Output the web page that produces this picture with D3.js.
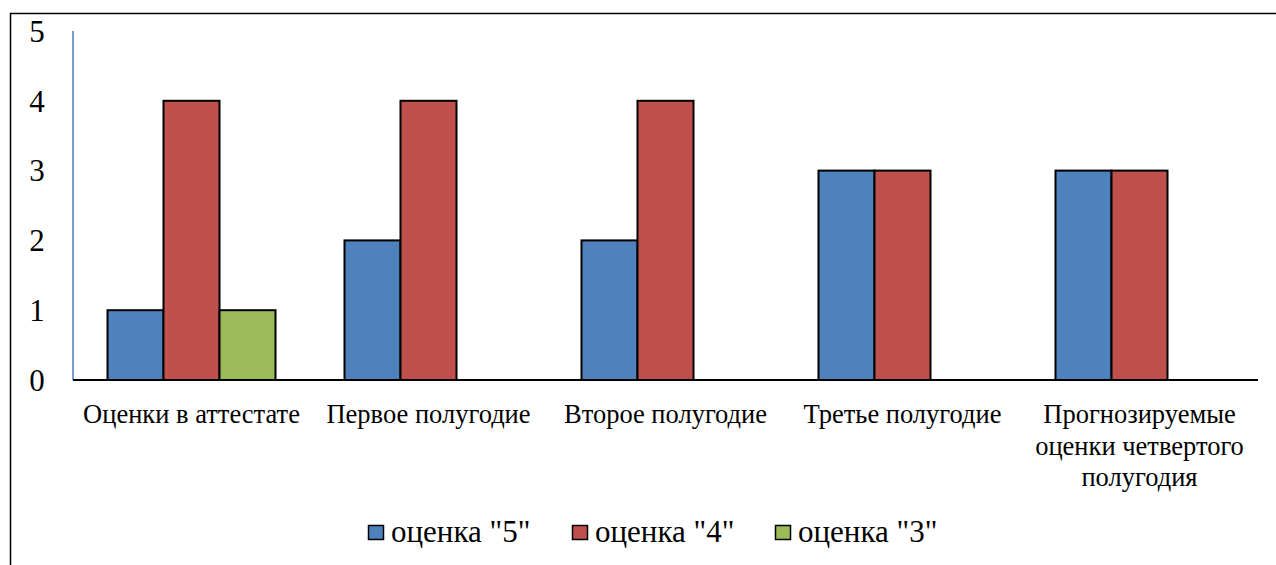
<!DOCTYPE html>
<html>
<head>
<meta charset="utf-8">
<script src="https://cdn.jsdelivr.net/npm/d3@7"></script>
<style>
  body { margin: 0; background: #fff; }
</style>
</head>
<body>
<div id="chart"></div>
<script>
const categories = [
  ['Оценки в аттестате'],
  ['Первое полугодие'],
  ['Второе полугодие'],
  ['Третье полугодие'],
  ['Прогнозируемые', 'оценки четвертого', 'полугодия']
];
const seriesNames = ['оценка "5"', 'оценка "4"', 'оценка "3"'];
const grade5 = [1, 2, 2, 3, 3];
const grade4 = [4, 4, 4, 3, 3];
const grade3 = [1, 0, 0, 0, 0];
const yTicks = [0, 1, 2, 3, 4, 5];
const colors = ['#4F81BD', '#C0504D', '#9BBB59'];

(function(){
  const W = 1276, H = 565;
  const FONT = 'Liberation Serif';
  const svg = d3.select('#chart').append('svg').attr('width', W).attr('height', H);

  // outer chart frame (only top & left visible in the crop)
  svg.append('rect').attr('x', 10.5).attr('y', 13.5).attr('width', W).attr('height', H)
    .attr('fill', 'none').attr('stroke', '#000').attr('stroke-width', 1.5);

  const left = 73, right = 1258, top = 31, bottom = 380;
  const x = d3.scaleBand().domain(d3.range(categories.length)).range([left, right]);
  const xs = d3.scaleBand().domain(d3.range(seriesNames.length)).range([34.5, x.bandwidth() - 34.5]);
  const y = d3.scaleLinear().domain([0, 5]).range([bottom, top]);

  const series = [grade5, grade4, grade3];
  const g = svg.append('g');
  series.forEach((vals, si) => {
    g.selectAll('.b' + si).data(vals.map((v, i) => ({v, i})).filter(d => d.v > 0))
      .enter().append('rect')
      .attr('x', d => x(d.i) + xs(si))
      .attr('y', d => y(d.v))
      .attr('width', xs.bandwidth())
      .attr('height', d => y(0) - y(d.v))
      .attr('fill', colors[si])
      .attr('stroke', '#000').attr('stroke-width', 2);
  });

  // y axis line (blue) and labels
  svg.append('line').attr('x1', left).attr('x2', left).attr('y1', y(5)).attr('y2', y(0))
    .attr('stroke', '#4F81BD').attr('stroke-width', 1.5);
  svg.selectAll('.ytick').data(yTicks).enter().append('text')
    .attr('font-family', FONT)
    .attr('x', 37).attr('y', d => y(d)).attr('dy', '0.35em')
    .attr('text-anchor', 'middle').attr('font-size', 31).text(d => d);

  // baseline
  svg.append('line').attr('x1', left).attr('x2', right).attr('y1', y(0)).attr('y2', y(0))
    .attr('stroke', '#000').attr('stroke-width', 2);

  // category labels
  const cl = svg.selectAll('.cat').data(categories).enter().append('text')
    .attr('font-family', FONT)
    .attr('text-anchor', 'middle').attr('font-size', 26.5)
    .attr('x', (d, i) => x(i) + x.bandwidth() / 2).attr('y', 423);
  cl.selectAll('tspan').data(d => d).enter().append('tspan')
    .attr('x', function(){ return this.parentNode.getAttribute('x'); })
    .attr('dy', (d, i) => i === 0 ? 0 : 31.5).text(d => d);

  // legend
  const legX = [368, 572, 775];
  const lg = svg.selectAll('.leg').data(seriesNames).enter().append('g')
    .attr('transform', (d, i) => `translate(${legX[i]},525)`);
  lg.append('rect').attr('x', 0.5).attr('y', 0.5).attr('width', 15).attr('height', 14)
    .attr('fill', (d, i) => colors[i]).attr('stroke', '#000').attr('stroke-width', 1.5);
  lg.append('text').attr('font-family', FONT).attr('x', 23).attr('y', 17).attr('font-size', 31).text(d => d);
})();
</script>
</body>
</html>
